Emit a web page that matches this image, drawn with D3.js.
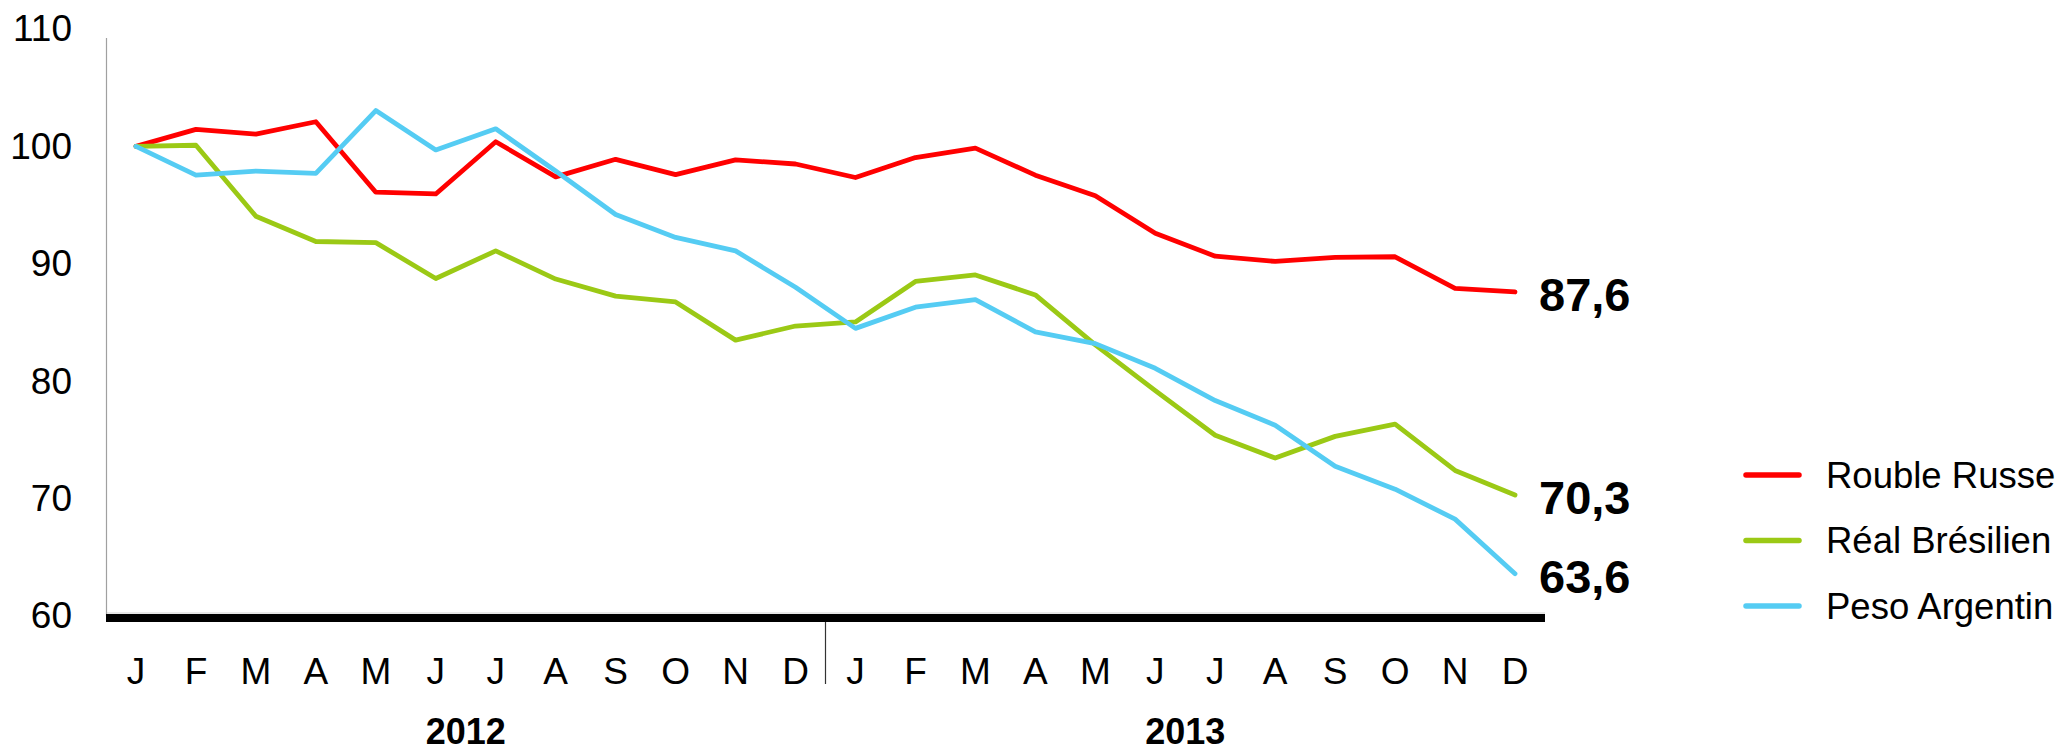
<!DOCTYPE html>
<html>
<head>
<meta charset="utf-8">
<script src="https://cdn.jsdelivr.net/npm/d3@7"></script>
<style>
  html, body { margin: 0; padding: 0; background: #fff; }
  svg { display: block; font-family: Arial, "Liberation Sans", sans-serif; }
</style>
</head>
<body>
<svg id="chart" width="2064" height="753"></svg>
<script>
// ---- Data ----
const months = ["J","F","M","A","M","J","J","A","S","O","N","D","J","F","M","A","M","J","J","A","S","O","N","D"];
const years = ["2012", "2013"];
const yTicks = [60, 70, 80, 90, 100, 110];
const seriesNames = ["Rouble Russe", "Réal Brésilien", "Peso Argentin"];
const rouble = [100, 101.45, 101.05, 102.1, 96.1, 95.95, 100.4, 97.4, 98.9, 97.6, 98.85, 98.5,
                97.35, 99.05, 99.85, 97.55, 95.8, 92.6, 90.65, 90.2, 90.55, 90.6, 87.9, 87.6];
const real   = [100, 100.1, 94.05, 91.9, 91.8, 88.75, 91.1, 88.7, 87.25, 86.75, 83.5, 84.7,
                85.05, 88.5, 89.05, 87.35, 83.1, 79.2, 75.4, 73.45, 75.3, 76.35, 72.4, 70.3];
const peso   = [100, 97.55, 97.9, 97.7, 103.05, 99.7, 101.5, 97.9, 94.2, 92.25, 91.1, 88.0,
                84.5, 86.3, 86.95, 84.2, 83.2, 81.1, 78.35, 76.25, 72.75, 70.8, 68.25, 63.6];
const endLabels = ["87,6", "70,3", "63,6"];
const colors = ["#FF0000", "#9BC915", "#55CCF3"];

// ---- Layout ----
const svg = d3.select("#chart");
const pLeft = 106, pRight = 1545, pTop = 29, pBottom = 616;
const idx = d3.range(months.length);
const x = d3.scaleBand().domain(idx).range([pLeft, pRight]).paddingInner(0).paddingOuter(0);
const xc = i => x(i) + x.bandwidth() / 2;
const y = d3.scaleLinear().domain([60, 110]).range([pBottom, pTop]);

// light plot border bottom
svg.append("line")
  .attr("x1", pLeft).attr("x2", pRight).attr("y1", 613).attr("y2", 613)
  .attr("stroke", "#d0d0d0").attr("stroke-width", 1);

// Y axis
const yAxis = svg.append("g")
  .attr("transform", `translate(${pLeft},0)`)
  .call(d3.axisLeft(y).tickValues(yTicks).tickSize(0).tickSizeOuter(0).tickPadding(34).tickFormat(d3.format("d")));
yAxis.select(".domain").attr("stroke", "#a0a0a0").attr("stroke-width", 1.2)
  .attr("d", `M0.5,38V${pBottom}`);
yAxis.selectAll("text").attr("font-size", 37).attr("fill", "#000")
  .attr("font-family", "Arial, 'Liberation Sans', sans-serif");

// X axis (month letters)
const xAxis = svg.append("g")
  .attr("transform", `translate(0,618)`)
  .call(d3.axisBottom(x).tickSize(0).tickPadding(40).tickFormat(i => months[i]));
xAxis.select(".domain").remove();
xAxis.selectAll("text").attr("font-size", 37).attr("fill", "#000")
  .attr("font-family", "Arial, 'Liberation Sans', sans-serif");

// thick baseline
svg.append("line")
  .attr("x1", pLeft).attr("x2", pRight).attr("y1", 618).attr("y2", 618)
  .attr("stroke", "#000").attr("stroke-width", 8);

// year separator
const sepX = x(12);
svg.append("line")
  .attr("x1", sepX).attr("x2", sepX).attr("y1", 622).attr("y2", 684)
  .attr("stroke", "#333").attr("stroke-width", 1.2);

// year labels
years.forEach((yr, k) => {
  const cx = (xc(k * 12) + xc(k * 12 + 11)) / 2;
  svg.append("text")
    .attr("x", cx).attr("y", 744)
    .attr("text-anchor", "middle")
    .attr("font-size", 36).attr("font-weight", "bold")
    .text(yr);
});

// lines
const allSeries = [rouble, real, peso];
const line = d3.line().x((d, i) => xc(i)).y(d => y(d));
allSeries.forEach((s, k) => {
  svg.append("path")
    .datum(s)
    .attr("fill", "none")
    .attr("stroke", colors[k])
    .attr("stroke-width", 4.8)
    .attr("stroke-linejoin", "round")
    .attr("stroke-linecap", "round")
    .attr("d", line);
  const last = s.length - 1;
  svg.append("text")
    .attr("x", xc(last) + 24)
    .attr("y", y(s[last]) + 2.5)
    .attr("dy", "0.35em")
    .attr("font-size", 47).attr("font-weight", "bold")
    .text(endLabels[k]);
});

// legend
const legY = [475, 540.5, 606];
seriesNames.forEach((n, k) => {
  svg.append("line")
    .attr("x1", 1746).attr("x2", 1799)
    .attr("y1", legY[k]).attr("y2", legY[k])
    .attr("stroke", colors[k]).attr("stroke-width", 5.5)
    .attr("stroke-linecap", "round");
  svg.append("text")
    .attr("x", 1826).attr("y", legY[k])
    .attr("dy", "0.35em")
    .attr("font-size", 36.5)
    .text(n);
});
</script>
</body>
</html>
